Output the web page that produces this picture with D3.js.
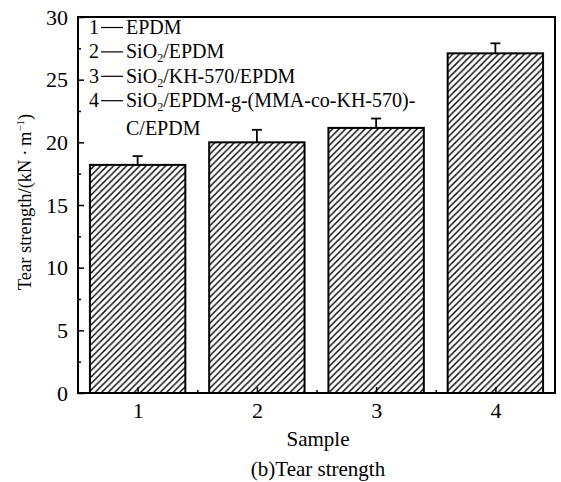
<!DOCTYPE html>
<html><head><meta charset="utf-8">
<script src="https://cdn.jsdelivr.net/npm/d3@7/dist/d3.min.js"></script>
<style>body{margin:0;background:#fff}svg{display:block}text{font-family:"Liberation Serif","Times New Roman",serif;fill:#000}</style>
</head><body><svg id="c" width="561" height="482"></svg>
<script>
const categories = [1, 2, 3, 4];
const values = [18.2, 20.0, 21.15, 27.1];
const errors = [0.7, 1.0, 0.75, 0.8];
const yTicks = [0, 5, 10, 15, 20, 25, 30];
const legendNums = ["1", "2", "3", "4", ""];
const legendLabels = [["EPDM"], ["SiO", "2", "/EPDM"], ["SiO", "2", "/KH-570/EPDM"], ["SiO", "2", "/EPDM-g-(MMA-co-KH-570)-"], ["C/EPDM"]];

const svg = d3.select("#c");
const m = {l: 78, r: 555, t: 17, b: 393};
const x = d3.scaleLinear().domain([0.5, 4.5]).range([m.l, m.r]);
const y = d3.scaleLinear().domain([0, 30]).range([m.b, m.t]);

const defs = svg.append("defs");
const pat = defs.append("pattern").attr("id", "hatch").attr("patternUnits", "userSpaceOnUse")
  .attr("width", 6.5).attr("height", 6.5);
pat.append("path").attr("d", "M-1,7.5 L7.5,-1 M-2,2 L2,-2 M4.5,8.5 L8.5,4.5").attr("stroke", "#000").attr("stroke-width", 1.4);

const bw = x(1.4) - x(0.6);
// bars
svg.selectAll("rect.bar").data(categories).enter().append("rect")
  .attr("x", (d) => x(d) - bw / 2).attr("y", (d, i) => y(values[i]))
  .attr("width", bw).attr("height", (d, i) => y(0) - y(values[i]))
  .attr("fill", "url(#hatch)").attr("stroke", "#000").attr("stroke-width", 2);

// error bars
const eg = svg.append("g").attr("stroke", "#000").attr("stroke-width", 1.8);
categories.forEach((d, i) => {
  eg.append("line").attr("x1", x(d)).attr("x2", x(d)).attr("y1", y(values[i])).attr("y2", y(values[i] + errors[i]));
  eg.append("line").attr("x1", x(d) - 5).attr("x2", x(d) + 5).attr("y1", y(values[i] + errors[i])).attr("y2", y(values[i] + errors[i]));
});

// axes (ticks inward)
const ax = svg.append("g").attr("transform", `translate(0,${m.b})`)
  .call(d3.axisBottom(x).tickValues(categories).tickSize(-6).tickPadding(9).tickFormat(d3.format("d")));
const axm = svg.append("g").attr("transform", `translate(0,${m.b})`)
  .call(d3.axisBottom(x).tickValues([1.5, 2.5, 3.5]).tickSize(-3).tickFormat(""));
const ay = svg.append("g").attr("transform", `translate(${m.l},0)`)
  .call(d3.axisLeft(y).tickValues(yTicks).tickSize(-6).tickPadding(10));
const aym = svg.append("g").attr("transform", `translate(${m.l},0)`)
  .call(d3.axisLeft(y).tickValues([2.5, 7.5, 12.5, 17.5, 22.5, 27.5]).tickSize(-3).tickFormat(""));
[ax, axm, ay, aym].forEach(g => {
  g.select(".domain").remove();
  g.selectAll("line").attr("stroke", "#000").attr("stroke-width", 1.5);
  g.selectAll("text").style("font-size", "22px").style("font-family", "Liberation Serif");
});
// frame
svg.append("rect").attr("x", m.l).attr("y", m.t).attr("width", m.r - m.l).attr("height", m.b - m.t)
  .attr("fill", "none").attr("stroke", "#000").attr("stroke-width", 2);

// legend
const lg = svg.append("g").style("font-size", "20px");
legendLabels.forEach((parts, i) => {
  const yy = 34 + i * 24.4 + (i === 4 ? 3 : 0);
  if (legendNums[i]) {
    lg.append("text").attr("x", 89).attr("y", yy).text(legendNums[i]);
    lg.append("line").attr("x1", 101).attr("x2", 123).attr("y1", yy - 6.5).attr("y2", yy - 6.5).attr("stroke", "#000").attr("stroke-width", 1.2);
  }
  const t = lg.append("text").attr("x", 126).attr("y", yy);
  if (parts.length === 1) t.text(parts[0]);
  else {
    t.append("tspan").text(parts[0]);
    t.append("tspan").attr("dy", 4).style("font-size", "12px").text(parts[1]);
    t.append("tspan").attr("dy", -4).text(parts[2]);
  }
});

// axis titles
svg.append("text").attr("x", 318).attr("y", 446).attr("text-anchor", "middle").style("font-size", "21px").text("Sample");
svg.append("text").attr("x", 318).attr("y", 476).attr("text-anchor", "middle").style("font-size", "21px").text("(b)Tear strength");
const yt = svg.append("text").attr("transform", "translate(31,202) rotate(-90)").attr("text-anchor", "middle").style("font-size", "18.5px");
yt.append("tspan").text("Tear strength/(kN\u2009\u00B7\u2009m");
yt.append("tspan").attr("dy", -7).style("font-size", "11px").text("\u22121");
yt.append("tspan").attr("dy", 7).text(")");
</script></body></html>
